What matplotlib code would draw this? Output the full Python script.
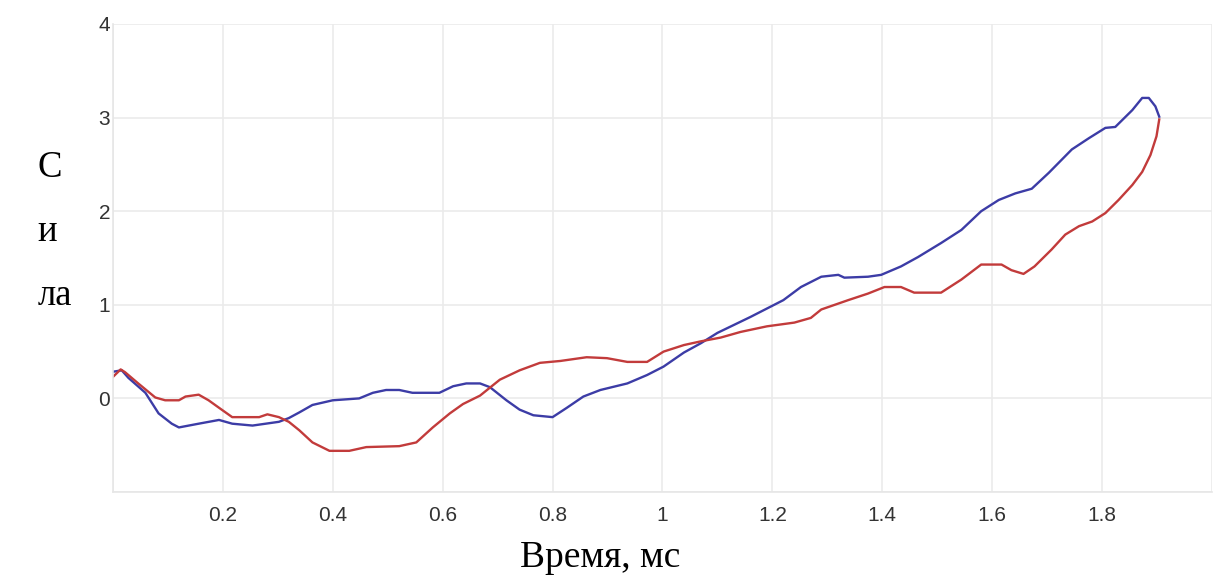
import numpy as np
import matplotlib.pyplot as plt

# data (time in ms, force)
blue_t = [0.0, 0.016, 0.028, 0.059, 0.083, 0.107, 0.12, 0.156, 0.193, 0.217, 0.254, 0.278,
          0.302, 0.32, 0.339, 0.363, 0.40, 0.448, 0.473, 0.497, 0.521, 0.545, 0.594, 0.619,
          0.643, 0.668, 0.686, 0.716, 0.74, 0.765, 0.80, 0.826, 0.856, 0.887, 0.936, 0.972,
          1.002, 1.039, 1.07, 1.10, 1.16, 1.22, 1.252, 1.289, 1.32, 1.331, 1.374, 1.398,
          1.434, 1.465, 1.507, 1.544, 1.58, 1.612, 1.642, 1.672, 1.703, 1.745, 1.776, 1.806,
          1.824, 1.855, 1.873, 1.885, 1.897, 1.904]
blue_f = [0.285, 0.30, 0.22, 0.06, -0.16, -0.27, -0.31, -0.27, -0.23, -0.27, -0.29, -0.27,
          -0.25, -0.21, -0.15, -0.07, -0.02, 0.0, 0.06, 0.09, 0.09, 0.06, 0.06, 0.13,
          0.16, 0.16, 0.12, -0.02, -0.12, -0.18, -0.20, -0.10, 0.02, 0.09, 0.16, 0.25,
          0.34, 0.49, 0.59, 0.70, 0.87, 1.05, 1.19, 1.30, 1.32, 1.29, 1.30, 1.32,
          1.41, 1.51, 1.66, 1.80, 2.0, 2.12, 2.19, 2.24, 2.41, 2.66, 2.78, 2.89,
          2.90, 3.08, 3.21, 3.21, 3.12, 3.01]

red_t = [0.0, 0.014, 0.022, 0.046, 0.077, 0.095, 0.12, 0.132, 0.156, 0.174, 0.193, 0.217,
         0.266, 0.281, 0.302, 0.32, 0.339, 0.363, 0.394, 0.43, 0.461, 0.521, 0.552, 0.582,
         0.613, 0.637, 0.668, 0.704, 0.74, 0.777, 0.814, 0.862, 0.899, 0.936, 0.972, 1.002,
         1.039, 1.07, 1.106, 1.142, 1.19, 1.24, 1.27, 1.289, 1.338, 1.374, 1.404, 1.434,
         1.458, 1.507, 1.544, 1.58, 1.617, 1.635, 1.657, 1.677, 1.708, 1.733, 1.758, 1.782,
         1.806, 1.83, 1.855, 1.873, 1.888, 1.899, 1.904]
red_f = [0.23, 0.31, 0.28, 0.16, 0.01, -0.02, -0.02, 0.02, 0.04, -0.02, -0.10, -0.20,
         -0.20, -0.17, -0.20, -0.25, -0.34, -0.47, -0.56, -0.56, -0.52, -0.51, -0.47, -0.31,
         -0.16, -0.06, 0.03, 0.20, 0.30, 0.38, 0.40, 0.44, 0.43, 0.39, 0.39, 0.50,
         0.57, 0.61, 0.65, 0.71, 0.77, 0.81, 0.86, 0.95, 1.05, 1.12, 1.19, 1.19,
         1.13, 1.13, 1.27, 1.43, 1.43, 1.37, 1.33, 1.41, 1.59, 1.75, 1.84, 1.89,
         1.98, 2.12, 2.28, 2.42, 2.60, 2.80, 2.98]

x_ticks = [0.0, 0.2, 0.4, 0.6, 0.8, 1.0, 1.2, 1.4, 1.6, 1.8, 2.0]
x_labels = ['', '0.2', '0.4', '0.6', '0.8', '1', '1.2', '1.4', '1.6', '1.8', '']
y_ticks = [-1, 0, 1, 2, 3, 4]
y_labels = ['', '0', '1', '2', '3', '4']
y_title_parts = ['С', 'и', 'ла']

fig = plt.figure(figsize=(12.16, 5.82), dpi=100)
ax = fig.add_axes([0.0929, 0.1546, 0.9038, 0.8042])

ax.plot(blue_t, blue_f, color='#3c3ca6', lw=1.7)
ax.plot(red_t, red_f, color='#c23b3b', lw=1.7)

ax.set_xlim(0, 2.0)
ax.set_ylim(-1, 4)
ax.set_xticks(x_ticks)
ax.set_xticklabels(x_labels)
ax.set_yticks(y_ticks)
ax.set_yticklabels(y_labels)
ax.tick_params(length=0, labelsize=15, labelcolor='#333333')
ax.tick_params(axis='x', pad=10)
ax.tick_params(axis='y', pad=2)
for lab in ax.get_xticklabels() + ax.get_yticklabels():
    lab.set_family('Liberation Sans')

ax.grid(True, color='#ebebeb', lw=1.2)
ax.set_axisbelow(True)
for side in ['top', 'right']:
    ax.spines[side].set_visible(False)
for side in ['left', 'bottom']:
    ax.spines[side].set_color('#e6e6e6')
    ax.spines[side].set_linewidth(1.2)

# axis titles in a serif face, the y one split over three lines
for part, yb in zip(y_title_parts, [0.696, 0.586, 0.476]):
    fig.text(0.031, yb, part, family='Liberation Serif', fontsize=26.5,
             ha='left', va='baseline')
fig.text(0.4934, 0.026, 'Время, мс', family='Liberation Serif', fontsize=27,
         ha='center', va='baseline')

fig.savefig('out.png', dpi=100)
